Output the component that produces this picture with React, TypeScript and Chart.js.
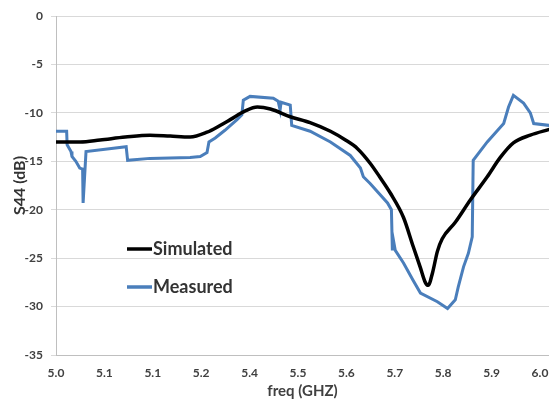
import React, { useEffect, useRef } from "react";
import { Chart, registerables } from "chart.js";

Chart.register(...registerables);

const tickValues = [5.0, 5.1, 5.2, 5.3, 5.4, 5.5, 5.6, 5.7, 5.8, 5.9, 6.0];
const tickLabels = ["5.0", "5.1", "5.1", "5.2", "5.4", "5.5", "5.6", "5.7", "5.8", "5.9", "6.0"];

const simulatedFreq = [
  5.0, 5.05, 5.091, 5.143, 5.194, 5.236, 5.277, 5.312, 5.339, 5.36, 5.391, 5.416, 5.443, 5.484,
  5.525, 5.567, 5.598, 5.623, 5.649, 5.67, 5.691, 5.718, 5.738, 5.753, 5.763, 5.769, 5.778,
  5.788, 5.798, 5.825, 5.856, 5.891, 5.918, 5.945, 5.98, 6.02,
];
const simulatedS44 = [
  -13.0, -13.0, -12.8, -12.5, -12.3, -12.4, -12.5, -12.0, -11.3, -10.7, -9.8, -9.4, -9.6, -10.4,
  -11.0, -11.9, -12.8, -13.7, -15.2, -16.7, -18.3, -20.8, -23.8, -26.0, -27.5, -27.8, -26.5,
  -24.3, -23.0, -21.3, -19.0, -16.6, -14.6, -13.1, -12.3, -11.7,
];

const measuredFreq = [
  5.0, 5.022, 5.023, 5.031, 5.033, 5.041, 5.049, 5.055, 5.056, 5.062, 5.145, 5.148, 5.194,
  5.277, 5.298, 5.312, 5.316, 5.329, 5.349, 5.374, 5.384, 5.387, 5.401, 5.449, 5.459, 5.463,
  5.465, 5.484, 5.487, 5.525, 5.567, 5.608, 5.629, 5.635, 5.649, 5.685, 5.693, 5.695, 5.697,
  5.701, 5.718, 5.738, 5.753, 5.788, 5.809, 5.825, 5.831, 5.842, 5.852, 5.86, 5.862, 5.891,
  5.925, 5.935, 5.945, 5.966, 5.98, 5.987, 6.02,
];
const measuredS44 = [
  -11.9, -11.9, -13.3, -14.0, -14.5, -15.0, -15.7, -15.8, -19.3, -14.0, -13.5, -14.9, -14.7,
  -14.6, -14.5, -14.1, -13.0, -12.6, -11.8, -10.7, -10.2, -8.7, -8.3, -8.5, -8.8, -9.7,
  -8.9, -9.2, -11.3, -11.9, -13.0, -14.4, -15.7, -16.6, -17.3, -19.3, -20.0, -24.2, -23.1,
  -24.2, -25.5, -27.3, -28.6, -29.5, -30.2, -29.3, -28.0, -25.9, -24.5, -22.8, -14.9, -13.0,
  -11.1, -9.4, -8.2, -9.0, -10.0, -11.1, -11.3,
];

const legendItems = [
  { label: "Simulated", color: "#000000" },
  { label: "Measured", color: "#4a7ebb" },
];

const FONT = "Lato, 'Liberation Sans', sans-serif";

export default function App() {
  const ref = useRef<HTMLCanvasElement>(null);

  useEffect(() => {
    const canvas = ref.current;
    if (!canvas) return;

    const legendPlugin = {
      id: "customLegend",
      afterDatasetsDraw(chart: any) {
        const ctx = chart.ctx;
        const ys = [249, 287];
        ctx.save();
        legendItems.forEach((item, i) => {
          const y = ys[i];
          ctx.strokeStyle = item.color;
          ctx.lineWidth = 3.5;
          ctx.beginPath();
          ctx.moveTo(127, y);
          ctx.lineTo(152, y);
          ctx.stroke();
          ctx.fillStyle = "#333333";
          ctx.font = `bold 18px ${FONT}`;
          ctx.textBaseline = "middle";
          ctx.textAlign = "left";
          ctx.fillText(item.label, 153, y);
        });
        ctx.restore();
      },
    };

    const chart = new Chart(canvas, {
      type: "line",
      data: {
        datasets: [
          {
            label: "Simulated",
            data: simulatedFreq.map((f, i) => ({ x: f, y: simulatedS44[i] })),
            borderColor: "#000000",
            borderWidth: 3.5,
            pointRadius: 0,
            cubicInterpolationMode: "monotone",
            fill: false,
          },
          {
            label: "Measured",
            data: measuredFreq.map((f, i) => ({ x: f, y: measuredS44[i] })),
            borderColor: "#4a7ebb",
            borderWidth: 3,
            pointRadius: 0,
            tension: 0,
            fill: false,
          },
        ],
      },
      options: {
        animation: false,
        responsive: false,
        devicePixelRatio: 1,
        layout: { padding: { left: 0, top: 16, right: 0, bottom: 0 } },
        plugins: { legend: { display: false }, tooltip: { enabled: false } },
        scales: {
          x: {
            type: "linear",
            min: 5.0,
            max: 6.0186,
            afterBuildTicks: (scale: any) => {
              scale.ticks = tickValues.map((v) => ({ value: v }));
            },
            afterFit: (scale: any) => {
              scale.height = 45;
              scale.paddingLeft = 0;
              scale.paddingRight = 0;
            },
            grid: { display: false, drawTicks: false, tickLength: 0 },
            border: { display: true, color: "#bfbfbf", width: 1 },
            ticks: {
              padding: 11,
              autoSkip: false,
              maxRotation: 0,
              color: "#404040",
              font: { family: FONT, size: 12, weight: "bold" },
              callback: (_v: any, i: number) => tickLabels[i],
            },
            title: {
              display: true,
              text: "freq (GHZ)",
              color: "#404040",
              font: { family: FONT, size: 15, weight: "bold" },
              padding: { top: 0, bottom: 0 },
            },
          },
          y: {
            min: -35,
            max: 0,
            afterFit: (scale: any) => {
              scale.width = 56;
              scale.paddingTop = 0;
              scale.paddingBottom = 0;
            },
            grid: { color: "#d9d9d9", lineWidth: 1, drawTicks: true, tickLength: 5 },
            border: { display: true, color: "#bfbfbf", width: 1 },
            ticks: {
              stepSize: 5,
              padding: 8,
              color: "#404040",
              font: { family: FONT, size: 12, weight: "bold" },
            },
            title: {
              display: true,
              text: "S44 (dB)",
              color: "#333333",
              font: { family: FONT, size: 16, weight: "bold" },
              padding: { top: 10, bottom: 0 },
            },
          },
        },
      },
      plugins: [legendPlugin],
    } as any);

    return () => chart.destroy();
  }, []);

  return (
    <div style={{ position: "fixed", left: 0, top: 0, width: 549, height: 400, background: "#fff" }}>
      <canvas ref={ref} width={549} height={400} style={{ width: 549, height: 400, display: "block" }} />
    </div>
  );
}
